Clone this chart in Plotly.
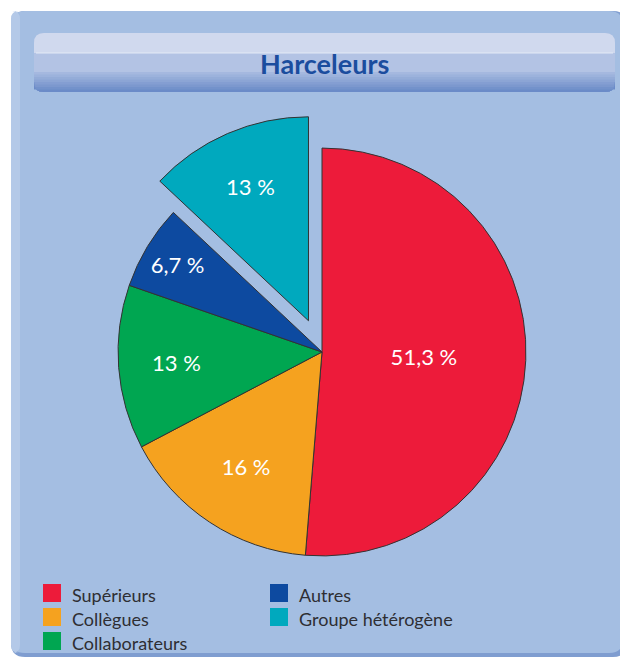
import plotly.graph_objects as go

# ---- data ----
labels = ["Supérieurs", "Collègues", "Collaborateurs", "Autres", "Groupe hétérogène"]
values = [51.3, 16, 13, 6.7, 13]
colors = ["#ed1b3a", "#f5a21f", "#00a651", "#0d4aa0", "#00a9be"]
pulls = [0, 0, 0, 0, 0.167]
title_text = "Harceleurs"
legend_col1 = ["Supérieurs", "Collègues", "Collaborateurs"]
legend_col2 = ["Autres", "Groupe hétérogène"]

# page body has an 8px margin: the figure starts at (8, 8)
OFF = 8
W, H = 620, 654

def px(x):
    return (x - OFF) / W

def py(y):
    return 1 - (y - OFF) / H

def rrect(x0, y0, x1, y1, r, top=True, bottom=True):
    X0, X1 = px(x0), px(x1)
    Y0, Y1 = py(y0), py(y1)
    rx, ry = r / W, r / H
    p = []
    if top:
        p.append(f"M{X0},{Y0 - ry}")
        p.append(f"Q{X0},{Y0} {X0 + rx},{Y0}")
        p.append(f"L{X1 - rx},{Y0}")
        p.append(f"Q{X1},{Y0} {X1},{Y0 - ry}")
    else:
        p.append(f"M{X0},{Y0}")
        p.append(f"L{X1},{Y0}")
    if bottom:
        p.append(f"L{X1},{Y1 + ry}")
        p.append(f"Q{X1},{Y1} {X1 - rx},{Y1}")
        p.append(f"L{X0 + rx},{Y1}")
        p.append(f"Q{X0},{Y1} {X0},{Y1 + ry}")
    else:
        p.append(f"L{X1},{Y1}")
        p.append(f"L{X0},{Y1}")
    p.append("Z")
    return " ".join(p)

shapes = []
def add_path(path, color):
    shapes.append(dict(type="path", path=path, xref="paper", yref="paper",
                       fillcolor=color, line=dict(width=0), layer="below"))

# panel with slight shadow
add_path(rrect(11, 11, 627, 657, 14), "#7f9dd0")
add_path(rrect(11, 11, 623, 653, 14), "#a4bee2")
add_path(rrect(11, 11, 20, 653, 8), "#b4c9e8")

# title banner
add_path(rrect(34, 33, 615, 92, 10), "#b3c3e4")
add_path(rrect(34, 33, 615, 53, 10, top=True, bottom=False), "#d0d9ee")
def lerp(c1, c2, t):
    a = [int(c1[i:i + 2], 16) for i in (1, 3, 5)]
    b = [int(c2[i:i + 2], 16) for i in (1, 3, 5)]
    return "#" + "".join(f"{int(round(a[k] + (b[k] - a[k]) * t)):02x}" for k in range(3))
n = 8
for i in range(n):
    y0 = 72 + i * 2.5
    add_path(rrect(34, y0, 615, 92, 10, top=False, bottom=True),
             lerp("#adbfe2", "#6b8bc8", (i + 1) / n))
shapes.append(dict(type="line", xref="paper", yref="paper", x0=px(36), x1=px(613),
                   y0=py(53), y1=py(53), line=dict(color="#e4eaf6", width=1), layer="below"))

annotations = [dict(text=f"<b>{title_text}</b>", x=px(325), y=py(63), xref="paper", yref="paper",
                    showarrow=False, font=dict(family="Lato", size=27, color="#1b4d9e"),
                    xanchor="center", yanchor="middle")]

# legend drawn from data
cmap = dict(zip(labels, colors))
for col, (items, sx) in enumerate([(legend_col1, 43), (legend_col2, 270)]):
    for j, lab in enumerate(items):
        top = 584 + j * 24
        shapes.append(dict(type="rect", xref="paper", yref="paper",
                           x0=px(sx), x1=px(sx + 18), y0=py(top), y1=py(top + 18),
                           fillcolor=cmap[lab], line=dict(width=0)))
        annotations.append(dict(text=lab, x=px(sx + 27), y=py(top + 11), xref="paper", yref="paper",
                                showarrow=False, xanchor="left", yanchor="middle",
                                font=dict(family="Lato", size=18, color="#2e2e33")))

texts = [(f"{v:g}".replace(".", ",") + " %") for v in values]

fig = go.Figure(go.Pie(
    labels=labels, values=values, text=texts, textinfo="text",
    marker=dict(colors=colors, line=dict(color="#333333", width=1)),
    pull=pulls, sort=False, direction="clockwise", rotation=0,
    textposition="inside", insidetextorientation="horizontal",
    textfont=dict(family="Lato", size=22, color="white"),
    domain=dict(x=[px(84), px(560)], y=[py(590), py(114)]),
    showlegend=False, hoverinfo="label+percent",
))

fig.update_layout(width=W, height=H, autosize=False,
                  margin=dict(l=0, r=0, t=0, b=0),
                  paper_bgcolor="white", plot_bgcolor="white",
                  shapes=shapes, annotations=annotations)

fig.write_html("out.html")
